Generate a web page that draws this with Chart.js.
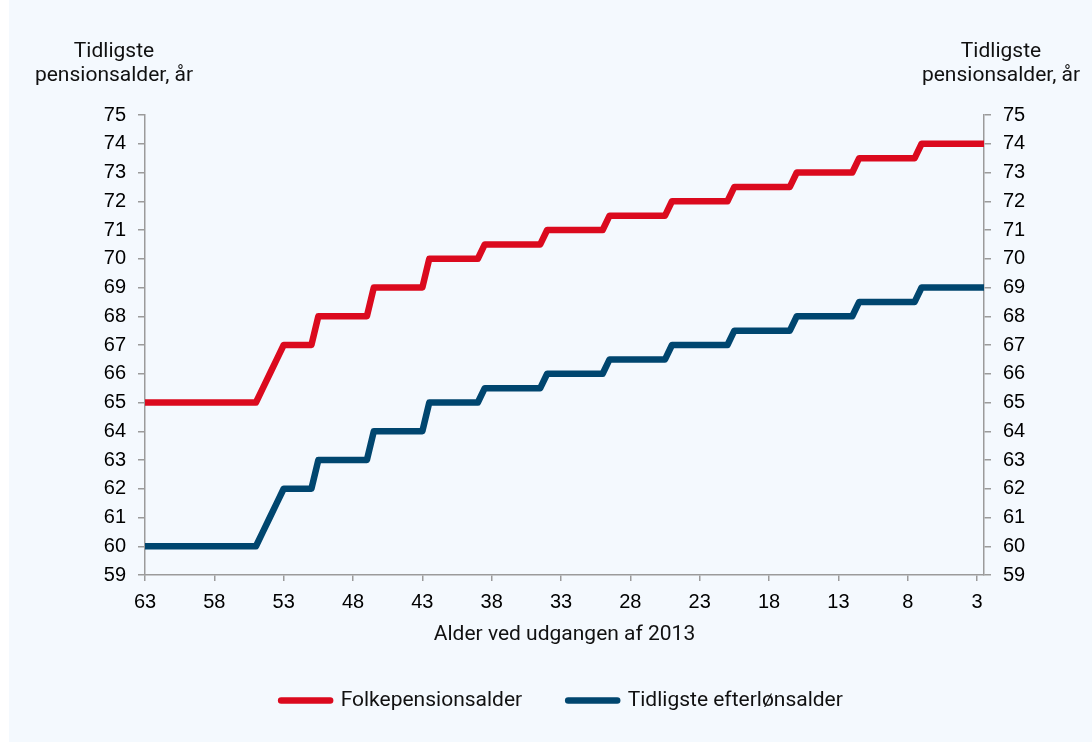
<!DOCTYPE html>
<html>
<head>
<meta charset="utf-8">
<script src="https://cdn.jsdelivr.net/npm/chart.js@4/dist/chart.umd.min.js"></script>
<style>
  html, body { margin: 0; padding: 0; background: #ffffff; }
  #wrap { position: relative; width: 1092px; height: 742px; overflow: hidden; }
  #panel { position: absolute; left: 9px; top: 0; right: 0; bottom: 0; background: #F4F9FE; }
  #c { position: absolute; left: 0; top: 0; }
</style>
</head>
<body>
<div id="wrap">
  <div id="panel"></div>
  <canvas id="c" width="1092" height="742"></canvas>
</div>
<script>
// Age at the end of 2013 (half-year steps)
const categories = [
  63, 62.5, 62, 61.5, 61, 60.5, 60, 59.5, 59, 58.5, 58, 57.5, 57, 56.5, 56, 55.5,
  55, 54.5, 54, 53.5, 53, 52.5, 52, 51.5, 51, 50.5, 50, 49.5, 49, 48.5, 48, 47.5,
  47, 46.5, 46, 45.5, 45, 44.5, 44, 43.5, 43, 42.5, 42, 41.5, 41, 40.5, 40, 39.5,
  39, 38.5, 38, 37.5, 37, 36.5, 36, 35.5, 35, 34.5, 34, 33.5, 33, 32.5, 32, 31.5,
  31, 30.5, 30, 29.5, 29, 28.5, 28, 27.5, 27, 26.5, 26, 25.5, 25, 24.5, 24, 23.5,
  23, 22.5, 22, 21.5, 21, 20.5, 20, 19.5, 19, 18.5, 18, 17.5, 17, 16.5, 16, 15.5,
  15, 14.5, 14, 13.5, 13, 12.5, 12, 11.5, 11, 10.5, 10, 9.5, 9, 8.5, 8, 7.5,
  7, 6.5, 6, 5.5, 5, 4.5, 4, 3.5, 3, 2.5
];

const xTickLabels = ["63", "58", "53", "48", "43", "38", "33", "28", "23", "18", "13", "8", "3"];

const folkepensionsalder = [
  65, 65, 65, 65, 65, 65, 65, 65, 65, 65, 65, 65, 65, 65, 65, 65, 65,
  65.5, 66, 66.5,
  67, 67, 67, 67, 67,
  68, 68, 68, 68, 68, 68, 68, 68,
  69, 69, 69, 69, 69, 69, 69, 69,
  70, 70, 70, 70, 70, 70, 70, 70,
  70.5, 70.5, 70.5, 70.5, 70.5, 70.5, 70.5, 70.5, 70.5,
  71, 71, 71, 71, 71, 71, 71, 71, 71,
  71.5, 71.5, 71.5, 71.5, 71.5, 71.5, 71.5, 71.5, 71.5,
  72, 72, 72, 72, 72, 72, 72, 72, 72,
  72.5, 72.5, 72.5, 72.5, 72.5, 72.5, 72.5, 72.5, 72.5,
  73, 73, 73, 73, 73, 73, 73, 73, 73,
  73.5, 73.5, 73.5, 73.5, 73.5, 73.5, 73.5, 73.5, 73.5,
  74, 74, 74, 74, 74, 74, 74, 74, 74, 74
];

const efterloensalder = [
  60, 60, 60, 60, 60, 60, 60, 60, 60, 60, 60, 60, 60, 60, 60, 60, 60,
  60.5, 61, 61.5,
  62, 62, 62, 62, 62,
  63, 63, 63, 63, 63, 63, 63, 63,
  64, 64, 64, 64, 64, 64, 64, 64,
  65, 65, 65, 65, 65, 65, 65, 65,
  65.5, 65.5, 65.5, 65.5, 65.5, 65.5, 65.5, 65.5, 65.5,
  66, 66, 66, 66, 66, 66, 66, 66, 66,
  66.5, 66.5, 66.5, 66.5, 66.5, 66.5, 66.5, 66.5, 66.5,
  67, 67, 67, 67, 67, 67, 67, 67, 67,
  67.5, 67.5, 67.5, 67.5, 67.5, 67.5, 67.5, 67.5, 67.5,
  68, 68, 68, 68, 68, 68, 68, 68, 68,
  68.5, 68.5, 68.5, 68.5, 68.5, 68.5, 68.5, 68.5, 68.5,
  69, 69, 69, 69, 69, 69, 69, 69, 69, 69
];

const seriesNames = ["Folkepensionsalder", "Tidligste efterlønsalder"];
const yAxisTitle = ["Tidligste", "pensionsalder, år"];
const xAxisTitle = "Alder ved udgangen af 2013";

const RED = "#DB0A1E";
const BLUE = "#00466F";
const AXIS = "#9B9B9B";
const TICKFONT = { family: "'Liberation Sans', Arial, sans-serif", size: 20 };
const TITLEFONT = { family: "Roboto, 'Noto Sans', sans-serif", size: 21 };

const titlesPlugin = {
  id: 'yTitles',
  afterDraw(chart) {
    const ctx = chart.ctx;
    ctx.save();
    ctx.fillStyle = '#111111';
    ctx.font = "21px Roboto, 'Noto Sans', sans-serif";
    ctx.textAlign = 'center';
    ctx.textBaseline = 'alphabetic';
    const xs = [114, 1001];
    xs.forEach(x => {
      ctx.fillText(yAxisTitle[0], x, 57);
      ctx.fillText(yAxisTitle[1], x, 81);
    });
    ctx.restore();
  }
};

function xTickCallback(value, index) {
  if (index % 10 === 0 && index / 10 < xTickLabels.length) return xTickLabels[index / 10];
  return '';
}

function yAxis(position, width) {
  return {
    position: position,
    min: 59, max: 75,
    ticks: { stepSize: 1, padding: 12, font: TICKFONT, color: '#000000' },
    grid: { drawOnChartArea: false, drawTicks: true, tickLength: 7, color: AXIS, lineWidth: 1.5 },
    border: { display: true, color: AXIS, width: 1.5 },
    afterFit: s => { s.width = width; }
  };
}

function draw() {
  const colors = [RED, BLUE];
  new Chart(document.getElementById('c'), {
    type: 'line',
    data: {
      labels: categories,
      datasets: [
        { label: seriesNames[0], data: folkepensionsalder, yAxisID: 'y' },
        { label: seriesNames[1], data: efterloensalder, yAxisID: 'y' }
      ].map((d, i) => Object.assign(d, {
        borderColor: colors[i], backgroundColor: colors[i],
        borderWidth: 6.5, pointRadius: 0, pointHoverRadius: 0, pointHitRadius: 0,
        pointStyle: 'line', pointBorderColor: colors[i], pointBackgroundColor: colors[i], pointBorderWidth: 6.5,
        borderCapStyle: 'round', borderJoinStyle: 'round', tension: 0, clip: 0
      }))
    },
    options: {
      responsive: false,
      animation: false,
      devicePixelRatio: 1,
      events: [],
      layout: { padding: { left: 32, right: 0, top: 115, bottom: 21 } },
      plugins: {
        tooltip: { enabled: false },
        legend: {
          position: 'bottom',
          labels: {
            usePointStyle: true,
            pointStyleWidth: 49,
            padding: 46,
            font: TITLEFONT,
            color: '#111111',
            generateLabels: (chart) => Chart.defaults.plugins.legend.labels.generateLabels(chart).map(l => Object.assign(l, {
              lineCap: 'round', lineWidth: 6.5, strokeStyle: colors[l.datasetIndex], fillStyle: colors[l.datasetIndex], pointStyle: 'line'
            }))
          }
        }
      },
      scales: {
        x: {
          type: 'category',
          ticks: { autoSkip: false, maxRotation: 0, minRotation: 0, padding: 9, font: TICKFONT, color: '#000000', callback: xTickCallback },
          grid: {
            drawOnChartArea: false, drawTicks: true, tickLength: 6, lineWidth: 1.5,
            tickColor: (c) => (c.index % 10 === 0 && c.index <= 120) ? AXIS : 'rgba(0,0,0,0)'
          },
          border: { display: true, color: AXIS, width: 1.5 },
          title: { display: true, text: xAxisTitle, font: TITLEFONT, color: '#111111', padding: { top: 0, bottom: -3 } },
          afterFit: s => { s.height = 69; }
        },
        y: yAxis('left', 113),
        y2: yAxis('right', 108)
      }
    },
    plugins: [titlesPlugin]
  });
}

Promise.all([
  document.fonts.load("21px Roboto"),
  document.fonts.load("20px 'Liberation Sans'")
]).then(draw, draw);
</script>
</body>
</html>
